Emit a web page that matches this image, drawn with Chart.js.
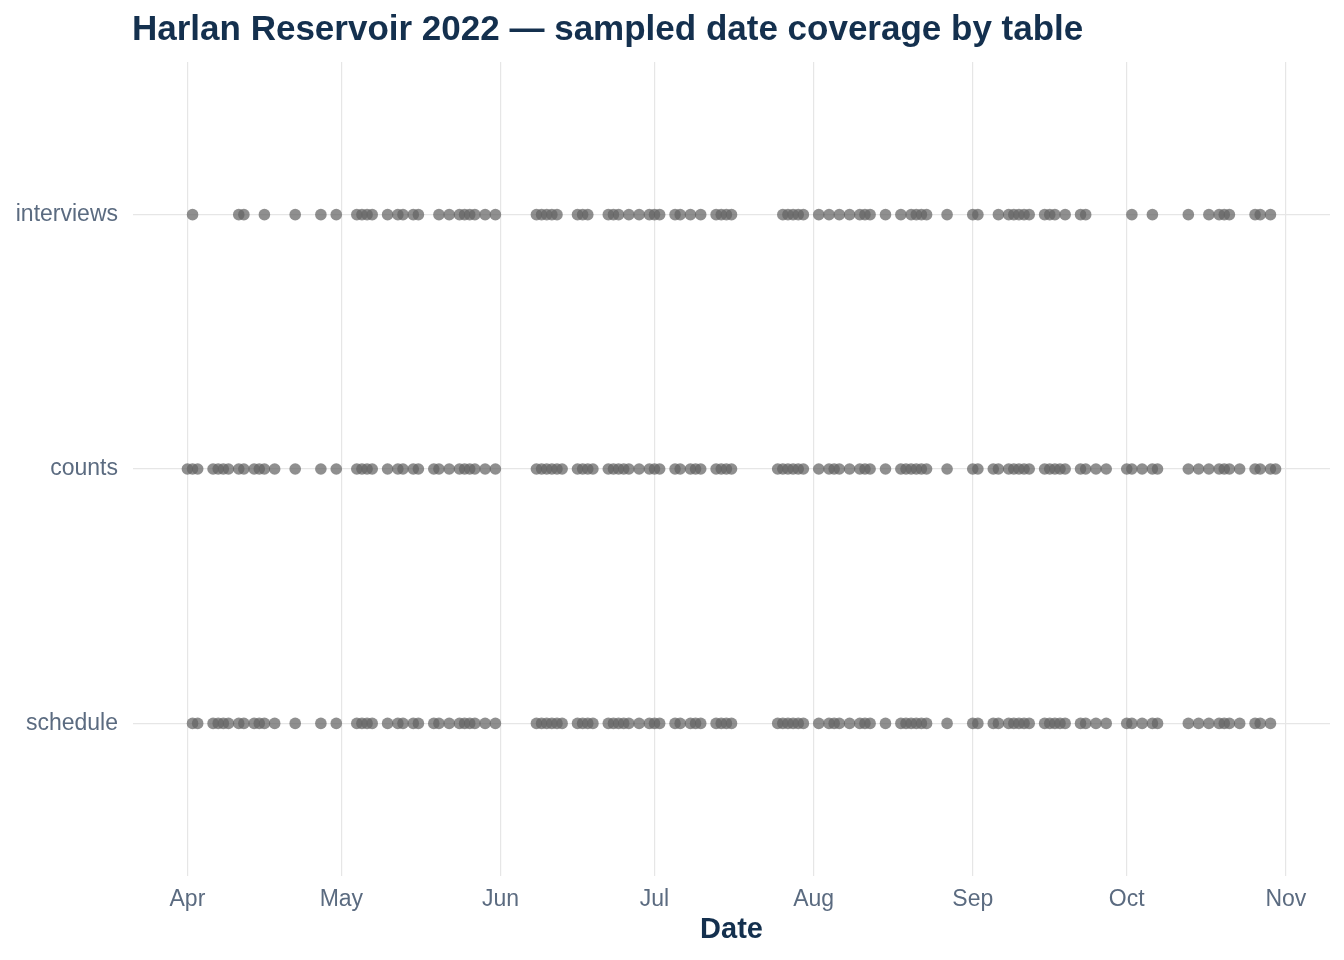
<!DOCTYPE html>
<html>
<head>
<meta charset="utf-8">
<script src="https://cdn.jsdelivr.net/npm/chart.js@4/dist/chart.umd.min.js"></script>
<style>
  html, body { margin: 0; padding: 0; background: #ffffff; }
  #wrap { position: relative; width: 1344px; height: 960px; }
  #title { position: absolute; left: 132px; top: 9px; margin: 0; font-family: "Liberation Sans", Arial, sans-serif; font-weight: bold; font-size: 35px; line-height: 38px; color: #14304e; white-space: nowrap; }
  canvas { position: absolute; left: 0; top: 0; }
</style>
</head>
<body>
<div id="wrap">
  <canvas id="c" width="1344" height="960"></canvas>
  <div id="title">Harlan Reservoir 2022 — sampled date coverage by table</div>
</div>
<script>
// ---- data ----
const tables = ["schedule", "counts", "interviews"]; // bottom to top
const monthLabels = ["Apr", "May", "Jun", "Jul", "Aug", "Sep", "Oct", "Nov"];
const monthStarts = ["04-01", "05-01", "06-01", "07-01", "08-01", "09-01", "10-01", "11-01"];

const interviewsDates = ["04-02","04-11","04-12","04-16","04-22","04-27","04-30","05-04","05-05","05-06","05-07","05-10","05-12","05-13","05-15","05-16","05-20","05-22","05-24","05-25","05-26","05-27","05-29","05-31","06-08","06-09","06-10","06-11","06-12","06-16","06-17","06-18","06-22","06-23","06-24","06-26","06-28","06-30","07-01","07-02","07-05","07-06","07-08","07-10","07-13","07-14","07-15","07-16","07-26","07-27","07-28","07-29","07-30","08-02","08-04","08-06","08-08","08-10","08-11","08-12","08-15","08-18","08-20","08-21","08-22","08-23","08-27","09-01","09-02","09-06","09-08","09-09","09-10","09-11","09-12","09-15","09-16","09-17","09-19","09-22","09-23","10-02","10-06","10-13","10-17","10-19","10-20","10-21","10-26","10-27","10-29"];

const countsDates = ["04-01","04-02","04-03","04-06","04-07","04-08","04-09","04-11","04-12","04-14","04-15","04-16","04-18","04-22","04-27","04-30","05-04","05-05","05-06","05-07","05-10","05-12","05-13","05-15","05-16","05-19","05-20","05-22","05-24","05-25","05-26","05-27","05-29","05-31","06-08","06-09","06-10","06-11","06-12","06-13","06-16","06-17","06-18","06-19","06-22","06-23","06-24","06-25","06-26","06-28","06-30","07-01","07-02","07-05","07-06","07-08","07-09","07-10","07-13","07-14","07-15","07-16","07-25","07-26","07-27","07-28","07-29","07-30","08-02","08-04","08-05","08-06","08-08","08-10","08-11","08-12","08-15","08-18","08-19","08-20","08-21","08-22","08-23","08-27","09-01","09-02","09-05","09-06","09-08","09-09","09-10","09-11","09-12","09-15","09-16","09-17","09-18","09-19","09-22","09-23","09-25","09-27","10-01","10-02","10-04","10-06","10-07","10-13","10-15","10-17","10-19","10-20","10-21","10-23","10-26","10-27","10-29","10-30"];

const scheduleDates = ["04-02","04-03","04-06","04-07","04-08","04-09","04-11","04-12","04-14","04-15","04-16","04-18","04-22","04-27","04-30","05-04","05-05","05-06","05-07","05-10","05-12","05-13","05-15","05-16","05-19","05-20","05-22","05-24","05-25","05-26","05-27","05-29","05-31","06-08","06-09","06-10","06-11","06-12","06-13","06-16","06-17","06-18","06-19","06-22","06-23","06-24","06-25","06-26","06-28","06-30","07-01","07-02","07-05","07-06","07-08","07-09","07-10","07-13","07-14","07-15","07-16","07-25","07-26","07-27","07-28","07-29","07-30","08-02","08-04","08-05","08-06","08-08","08-10","08-11","08-12","08-15","08-18","08-19","08-20","08-21","08-22","08-23","08-27","09-01","09-02","09-05","09-06","09-08","09-09","09-10","09-11","09-12","09-15","09-16","09-17","09-18","09-19","09-22","09-23","09-25","09-27","10-01","10-02","10-04","10-06","10-07","10-13","10-15","10-17","10-19","10-20","10-21","10-23","10-26","10-27","10-29"];

// ---- helpers ----
const base = Date.UTC(2022, 3, 1);
function dayOffset(md) {
  const [m, d] = md.split("-").map(Number);
  return (Date.UTC(2022, m - 1, d) - base) / 86400000;
}
const monthVals = monthStarts.map(dayOffset);
const dotColor = "rgba(100,100,100,0.72)";
function series(dates, yi) {
  return {
    data: dates.map(s => ({ x: dayOffset(s), y: yi })),
    pointRadius: 5.8,
    pointHoverRadius: 5.8,
    pointBackgroundColor: dotColor,
    pointBorderWidth: 0,
    borderWidth: 0,
    showLine: false
  };
}

const tickColor = "#5b6b80";
const navy = "#14304e";

new Chart(document.getElementById("c"), {
  type: "scatter",
  data: {
    datasets: [
      series(interviewsDates, 2),
      series(countsDates, 1),
      series(scheduleDates, 0)
    ]
  },
  options: {
    responsive: false,
    animation: false,
    events: [],
    layout: { padding: { top: 62, right: 14, bottom: 0, left: 0 } },
    plugins: { legend: { display: false }, tooltip: { enabled: false }, title: { display: false } },
    scales: {
      x: {
        type: "linear",
        min: -10.6,
        max: 222.6,
        afterBuildTicks: s => { s.ticks = monthVals.map(v => ({ value: v })); },
        afterFit: s => { s.height = 84; },
        grid: { color: "#e6e6e6", lineWidth: 1.2, drawTicks: false },
        border: { display: false },
        ticks: {
          color: tickColor,
          padding: 10,
          font: { family: "Liberation Sans", size: 23 },
          callback: v => { const i = monthVals.indexOf(v); return i >= 0 ? monthLabels[i] : ""; },
          maxRotation: 0,
          autoSkip: false
        },
        title: {
          display: true,
          text: "Date",
          color: navy,
          font: { family: "Liberation Sans", size: 29, weight: "bold" },
          padding: { top: 0, bottom: 13 }
        }
      },
      y: {
        type: "linear",
        min: -0.6,
        max: 2.6,
        afterBuildTicks: s => { s.ticks = [0, 1, 2].map(v => ({ value: v })); },
        afterFit: s => { s.width = 133; },
        grid: { color: "#e6e6e6", lineWidth: 1.2, drawTicks: false },
        border: { display: false },
        ticks: {
          color: tickColor,
          padding: 15,
          font: { family: "Liberation Sans", size: 23 },
          callback: v => tables[v] !== undefined ? tables[v] : ""
        }
      }
    }
  }
});
</script>
</body>
</html>
